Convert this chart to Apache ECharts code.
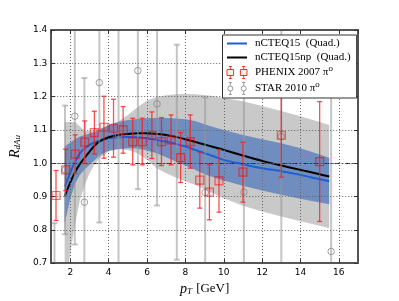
<!DOCTYPE html>
<html><head><meta charset="utf-8">
<script src="https://cdn.jsdelivr.net/npm/echarts@6/dist/echarts.min.js"></script>
<style>html,body{margin:0;padding:0;background:#fff}#c{width:399px;height:301px}</style>
</head><body><div id="c"></div>
<script>
// ---- data ----
const phenixPt  = [1.25,1.75,2.25,2.75,3.25,3.75,4.25,4.75,5.25,5.75,6.25,6.75,7.25,7.75,8.25,8.75,9.25,9.75,11,13,15];
const phenixR   = [0.903,0.98,1.027,1.063,1.092,1.108,1.105,1.100,1.065,1.065,1.084,1.065,1.070,1.017,1.065,0.949,0.913,0.947,0.973,1.084,1.005];
const phenixErr = [0.075,0.062,0.058,0.064,0.064,0.093,0.087,0.070,0.070,0.070,0.070,0.072,0.075,0.075,0.080,0.084,0.083,0.094,0.090,0.126,0.180];

const starPt  = [1.17,1.72,2.23,2.73,3.51,4.51,5.52,6.52,7.55,9.03,11.05,13.0,15.6];
const starR   = [0.60,0.98,1.141,0.883,1.242,1.085,1.278,1.178,1.033,0.912,0.913,1.08,0.735];
const starErr = [0.22,0.193,0.385,0.373,0.42,0.40,0.356,0.305,0.323,0.285,0.30,0.40,0.50];

const theoryPt   = [1.7,2.0,2.25,2.5,2.75,3.0,3.25,3.5,4.0,4.5,5.0,5.5,6.0,6.5,7.0,7.5,8.0,8.5,9.0,9.5,10.0,11.0,12.0,13.0,14.0,15.0,15.5];
const nctCentral = [0.93,0.972,1.005,1.03,1.045,1.055,1.062,1.068,1.075,1.078,1.079,1.078,1.075,1.07,1.065,1.058,1.05,1.04,1.03,1.02,1.01,0.997,0.985,0.976,0.965,0.952,0.946];
const nctUpper   = [1.05,1.062,1.073,1.08,1.085,1.089,1.094,1.10,1.115,1.124,1.13,1.133,1.135,1.136,1.136,1.134,1.132,1.127,1.117,1.108,1.10,1.085,1.072,1.06,1.045,1.026,1.016];
const nctLower   = [0.818,0.895,0.94,0.965,0.982,0.995,1.008,1.022,1.038,1.043,1.045,1.044,1.038,1.03,1.018,1.005,0.993,0.98,0.967,0.957,0.948,0.932,0.918,0.905,0.893,0.882,0.877];
const npCentral  = [0.90,0.943,0.974,0.998,1.017,1.035,1.052,1.065,1.078,1.085,1.088,1.09,1.09,1.088,1.085,1.079,1.072,1.064,1.056,1.048,1.04,1.023,1.007,0.993,0.98,0.967,0.96];
const npUpper    = [1.124,1.124,1.124,1.11,1.096,1.097,1.10,1.104,1.112,1.125,1.145,1.168,1.188,1.199,1.204,1.207,1.208,1.207,1.205,1.201,1.196,1.186,1.172,1.157,1.141,1.124,1.115];
const npLower    = [0.62,0.73,0.82,0.89,0.935,0.97,0.995,1.015,1.035,1.042,1.04,1.03,1.01,0.985,0.97,0.957,0.946,0.935,0.922,0.908,0.895,0.872,0.855,0.84,0.826,0.812,0.805];

const refLine = 1.0;
const names = ['nCTEQ15  (Quad.)','nCTEQ15np  (Quad.)','PHENIX 2007 π⁰','STAR 2010 π⁰'];

// ---- chart ----
const chart = echarts.init(document.getElementById('c'));
const frame = {show:true, onZero:false, lineStyle:{color:'#555', width:2}};
const tick = {show:true, inside:true, length:4, lineStyle:{color:'#333', width:1}};
const serif = 'Liberation Serif, DejaVu Serif, serif';

function band(name, pts, lo, hi, color, z){
  return {type:'custom', name:name, z:z, clip:true, silent:true,
    data: pts.map((p,i)=>[p, lo[i], hi[i]]),
    encode:{x:0, y:[1,2]},
    renderItem:function(params, api){
      if(params.dataIndex!==0) return null;
      const up = pts.map((p,i)=>api.coord([p, hi[i]]));
      const dn = pts.map((p,i)=>api.coord([p, lo[i]])).reverse();
      return {type:'polygon', shape:{points:up.concat(dn)}, style:{fill:color}};
    }};
}
function errBars(name, pts, vals, errs, color, width, cap, z){
  return {type:'custom', name:name, z:z, clip:true, silent:true,
    data: pts.map((p,i)=>[p, vals[i]-errs[i], vals[i]+errs[i]]),
    encode:{x:0, y:[1,2]},
    renderItem:function(params, api){
      const x = api.value(0);
      const a = api.coord([x, api.value(1)]);
      const b = api.coord([x, api.value(2)]);
      const st = {stroke:color, lineWidth:width};
      return {type:'group', children:[
        {type:'line', shape:{x1:a[0],y1:a[1],x2:b[0],y2:b[1]}, style:st},
        {type:'line', shape:{x1:a[0]-cap,y1:a[1],x2:a[0]+cap,y2:a[1]}, style:st},
        {type:'line', shape:{x1:b[0]-cap,y1:b[1],x2:b[0]+cap,y2:b[1]}, style:st}
      ]};
    }};
}

const phenixIcon = 'path://M0,3h6.6v6h-6.6Z M3.3,0v3 M3.3,9v3 M1.8,0h3 M1.8,12h3 M13.4,3h6.6v6h-6.6Z M16.7,0v3 M16.7,9v3 M15.2,0h3 M15.2,12h3';
const starIcon = 'path://M0.8,6a2.5,2.5 0 1,0 5,0a2.5,2.5 0 1,0 -5,0Z M3.3,0v3.5 M3.3,8.5v3.5 M1.8,0h3 M1.8,12h3 M14.2,6a2.5,2.5 0 1,0 5,0a2.5,2.5 0 1,0 -5,0Z M16.7,0v3.5 M16.7,8.5v3.5 M15.2,0h3 M15.2,12h3';
const lineIcon = 'path://M0,0h20v2h-20Z';

const option = {
  animation:false,
  backgroundColor:'#fff',
  grid:{left:50, top:30, right:41, bottom:30.5},
  legend:{
    orient:'vertical', left:222.5, top:35, z:20,
    padding:[3,6,3,4], itemGap:3, itemWidth:20, itemHeight:12,
    backgroundColor:'#fff', borderColor:'#333', borderWidth:1, borderRadius:0,
    textStyle:{fontFamily:serif, fontSize:11, color:'#000', padding:[0,0,0,3]},
    selectedMode:false,
    data:[
      {name:names[0], icon:lineIcon, itemStyle:{color:'#1f5fd6', borderWidth:0}},
      {name:names[1], icon:lineIcon, itemStyle:{color:'#000', borderWidth:0}},
      {name:names[2], icon:phenixIcon, itemStyle:{color:'rgba(255,0,0,0.08)', borderColor:'rgba(255,0,0,0.8)', borderWidth:1}},
      {name:names[3], icon:starIcon, itemStyle:{color:'rgba(0,0,0,0)', borderColor:'#999', borderWidth:1}}
    ]
  },
  xAxis:[
    {type:'value', position:'bottom', min:1, max:17, splitNumber:8, minInterval:2, maxInterval:2, z:10,
     axisLine:frame, axisTick:tick,
     axisLabel:{showMinLabel:false, showMaxLabel:false, fontSize:9, color:'#000', fontFamily:'DejaVu Sans', margin:5},
     splitLine:{show:true, lineStyle:{color:'#666', type:[1,2], width:1}},
     name:'{p|p}{t|T} [GeV]', nameLocation:'middle', nameGap:16,
     nameTextStyle:{fontFamily:serif, fontSize:13, color:'#000',
       rich:{p:{fontStyle:'italic', fontSize:14, fontFamily:serif, color:'#000'},
             t:{fontStyle:'italic', fontSize:9, fontFamily:serif, color:'#000', verticalAlign:'bottom', padding:[5,1,0,0]}}}},
    {type:'value', position:'top', min:1, max:17, splitNumber:8, minInterval:2, maxInterval:2, z:10,
     axisLine:frame, axisTick:tick, axisLabel:{show:false}, splitLine:{show:false}}
  ],
  yAxis:[
    {type:'value', position:'left', min:0.7, max:1.4, interval:0.1, z:10,
     axisLine:frame, axisTick:tick,
     axisLabel:{fontSize:9, color:'#000', fontFamily:'DejaVu Sans', margin:4, formatter:v=>v.toFixed(1)},
     splitLine:{show:true, lineStyle:{color:'#666', type:[1,2], width:1}},
     name:'{r|R}{s|dAu}', nameLocation:'middle', nameRotate:90, nameGap:23,
     nameTextStyle:{fontFamily:serif, color:'#000',
       rich:{r:{fontStyle:'italic', fontSize:14, fontFamily:serif, color:'#000'},
             s:{fontStyle:'italic', fontSize:9, fontFamily:serif, color:'#000', verticalAlign:'bottom', padding:[5,0,0,0]}}}},
    {type:'value', position:'right', min:0.7, max:1.4, interval:0.1, z:10,
     axisLine:frame, axisTick:tick, axisLabel:{show:false}, splitLine:{show:false}}
  ],
  series:[
    band('npBand', theoryPt, npLower, npUpper, '#c9c9c9', 1),
    band('nctBand', theoryPt, nctLower, nctUpper, '#6f8dbf', 1),
    {type:'line', name:names[0], z:3, data:theoryPt.map((p,i)=>[p, nctCentral[i]]),
     showSymbol:false, symbol:'none', smooth:0.3, lineStyle:{color:'#1f5fd6', width:2}, itemStyle:{color:'#1f5fd6'}, silent:true},
    {type:'line', name:names[1], z:3, data:theoryPt.map((p,i)=>[p, npCentral[i]]),
     showSymbol:false, symbol:'none', smooth:0.3, lineStyle:{color:'#000', width:2}, itemStyle:{color:'#000'}, silent:true,
     markLine:{silent:true, symbol:'none', label:{show:false}, lineStyle:{color:'#222', width:1.2, type:[5,2,1.5,2]}, data:[{yAxis:refLine}]}},
    errBars(names[3], starPt, starR, starErr, 'rgba(150,150,150,0.55)', 2, 3, 4),
    {type:'scatter', name:names[3], z:5, data:starPt.map((p,i)=>[p, starR[i]]), symbol:'circle', symbolSize:6.5,
     itemStyle:{color:'rgba(0,0,0,0)', borderColor:'#888', borderWidth:1}, silent:true},
    errBars(names[2], phenixPt, phenixR, phenixErr, 'rgba(255,20,20,0.75)', 1.3, 2.5, 6),
    {type:'scatter', name:names[2], z:7, data:phenixPt.map((p,i)=>[p, phenixR[i]]), symbol:'rect', symbolSize:8,
     itemStyle:{color:'rgba(255,0,0,0.08)', borderColor:'rgba(255,0,0,0.7)', borderWidth:1.2}, silent:true}
  ]
};
chart.setOption(option);
</script>
</body></html>
